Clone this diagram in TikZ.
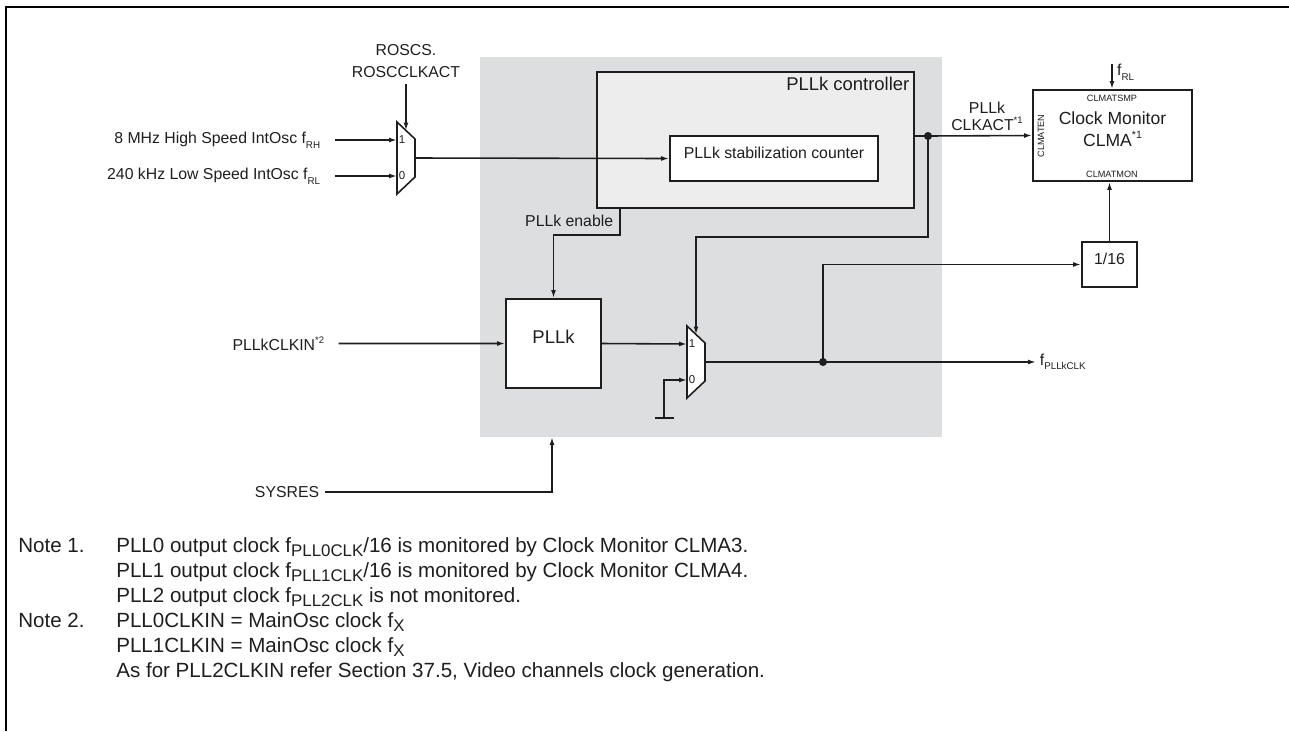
\documentclass[tikz,border=0pt]{standalone}
\usepackage{graphicx}
\usepackage{fontspec}
\setmainfont{Liberation Sans}
\usetikzlibrary{positioning,arrows.meta,fit}
\definecolor{rzGray}{RGB}{221,222,224}
\definecolor{rzLight}{RGB}{237,237,238}
\definecolor{rzInk}{RGB}{30,30,30}
\newcommand{\dsub}[1]{\raisebox{-0.55ex}{\scalebox{0.62}{#1}}}
\newcommand{\dsup}[1]{\raisebox{0.85ex}{\scalebox{0.6}{#1}}}
\newcommand{\nsub}[1]{\raisebox{-0.45ex}{\scalebox{0.82}{#1}}}
\tikzset{
    base/.style={font=\fontsize{9}{12.5}\selectfont, align=center, text=rzInk},
    block/.style={base, rectangle, draw=rzInk, line width=1.1pt, fill=white, inner sep=0pt},
    tiny/.style={font=\fontsize{5.2}{6}\selectfont, text=rzInk, inner sep=0pt},
    muxnum/.style={font=\fontsize{6.5}{7}\selectfont, text=rzInk, inner sep=0pt},
    wire/.style={draw=rzInk, line width=0.9pt},
    flow/.style={wire, -{Latex[length=4.5pt,width=2.8pt]}},
    frame/.style={draw=black, line width=1.5pt},
    note/.style={font=\fontsize{11.7}{14}\selectfont, text=rzInk, inner sep=0pt},
    mux/.pic={
        \draw[wire, fill=white] (0,0) -- (18,17) -- (18,55) -- (0,72) -- cycle;
        \coordinate (-in1) at (0,18);
        \coordinate (-in0) at (0,54);
        \coordinate (-out) at (18,36);
        \coordinate (-sel) at (9,8.5);
        \node[muxnum, anchor=west] (-n1) at (1.5,18) {1};
        \node[muxnum, anchor=west] (-n0) at (1.5,54) {0};
    }
}
\begin{document}
\begin{tikzpicture}[x=0.02cm, y=-0.02cm]
  \useasboundingbox (0,0) rectangle (1289,731);
  % Frame and PLL domain
  \draw[frame] (6,731) |- (1289,7);
  \fill[rzGray] (480,57) rectangle (942,437);
  \coordinate (rst) at (552,437);

  % Ring oscillator select
  \pic (m1) at (397,122) {mux};
  \node[base, anchor=south] (roscs) at (406,84) {ROSCS.\\ROSCCLKACT};
  \node[base, anchor=east, inner sep=2pt] (fhsi) at (324,140) {8 MHz High Speed IntOsc f\dsub{RH}};
  \node[base, anchor=east, inner sep=2pt] (flsi) at (324,176) {240 kHz Low Speed IntOsc f\dsub{RL}};
  \draw[flow] (roscs.south) -- (m1-sel);
  \draw[flow, shorten <=6pt] (fhsi.east) -- (m1-in1);
  \draw[flow, shorten <=6pt] (flsi.east) -- (m1-in0);

  % Controller
  \node[block, fill=rzLight, fit={(597,72) (914,208)}] (ctrl) {};
  \node[base, font=\fontsize{10.5}{12}\selectfont, anchor=north east, inner sep=3pt] (ctrlname) at (ctrl.north east) {PLLk controller};
  \node[block, fit={(670,136) (878,181)}] (stab) {PLLk stabilization counter};
  \draw[flow] (m1-out) -- (stab.west);

  % PLL and output select
  \node[block, font=\fontsize{10.5}{12}\selectfont, fit={(506,299) (601,388)}] (pll) {PLLk};
  \coordinate (en) at (620,208);
  \draw[flow] (en) -- ++(0,27) -| (pll.north);
  \node[base, anchor=east, inner sep=2pt] (enname) at (617,221) {PLLk enable};
  \node[base, anchor=east, inner sep=2pt] (clkin) at (328,343.5) {PLLkCLKIN\dsup{*2}};
  \draw[flow, shorten <=6pt] (clkin.east) -- (pll.west);
  \pic (m2) at (687,326) {mux};
  \draw[flow] (pll.east) -- (m2-in1);
  \coordinate (gnd) at (664,418);
  \draw[flow] (gnd) |- (m2-in0);
  \draw[wire] (gnd) ++(-9.5,0) -- ++(19,0);

  % Clock monitor
  \node[block, font=\fontsize{10}{12.5}\selectfont, fit={(1033,90) (1192,181)}] (clma) {Clock Monitor\\CLMA\dsup{*1}};
  \node[tiny] (tsmp) at (1112,98) {CLMATSMP};
  \node[tiny] (tmon) at (1112,174) {CLMATMON};
  \node[tiny, rotate=90] (ten) at (1041,136) {CLMATEN};
  \coordinate (act) at (928,136);
  \draw[wire] (ctrl.east |- act) -- (act);
  \draw[flow] (act) -- (clma.west);
  \draw[flow] (act) -- ++(0,101) -| (m2-sel);
  \fill[rzInk] (act) circle[radius=2.3pt];
  \node[base, font=\fontsize{9}{9.5}\selectfont, anchor=south] (actname) at (987,137) {PLLk\\CLKACT\dsup{*1}};
  \coordinate (frlsrc) at (1112,64);
  \draw[flow] (frlsrc) -- (frlsrc |- clma.north);
  \node[base, anchor=west, inner sep=1pt] (frlname) at (1115,72) {f\dsub{RL}};

  % Output and divider
  \node[block, fit={(1082,242) (1137,287)}] (div) {1/16};
  \coordinate (tap) at (823,362);
  \draw[wire] (m2-out) -- (tap);
  \node[base, anchor=west, inner sep=2pt] (fout) at (1036,362) {f\dsub{PLLkCLK}};
  \draw[flow] (tap) -- (fout.west);
  \draw[flow] (tap) |- (div.west);
  \fill[rzInk] (tap) circle[radius=2.3pt];
  \draw[flow] (div.north) -- (div.north |- clma.south);

  % Reset
  \node[base, anchor=east, inner sep=2pt] (sysres) at (323,492) {SYSRES};
  \draw[flow, shorten <=1pt] (sysres.east) -| (rst);

  % Notes
  \node[note, anchor=base west] (note1) at (18,552) {Note 1.};
  \node[note, anchor=base west] (n1a) at (116,552) {PLL0 output clock f\nsub{PLL0CLK}/16 is monitored by Clock Monitor CLMA3.};
  \node[note, anchor=base west] (n1b) at (116,577) {PLL1 output clock f\nsub{PLL1CLK}/16 is monitored by Clock Monitor CLMA4.};
  \node[note, anchor=base west] (n1c) at (116,602) {PLL2 output clock f\nsub{PLL2CLK} is not monitored.};
  \node[note, anchor=base west] (note2) at (18,627) {Note 2.};
  \node[note, anchor=base west] (n2a) at (116,627) {PLL0CLKIN = MainOsc clock f\nsub{X}};
  \node[note, anchor=base west] (n2b) at (116,652) {PLL1CLKIN = MainOsc clock f\nsub{X}};
  \node[note, anchor=base west] (n2c) at (116,677) {As for PLL2CLKIN refer Section 37.5, Video channels clock generation.};
\end{tikzpicture}
\end{document}
